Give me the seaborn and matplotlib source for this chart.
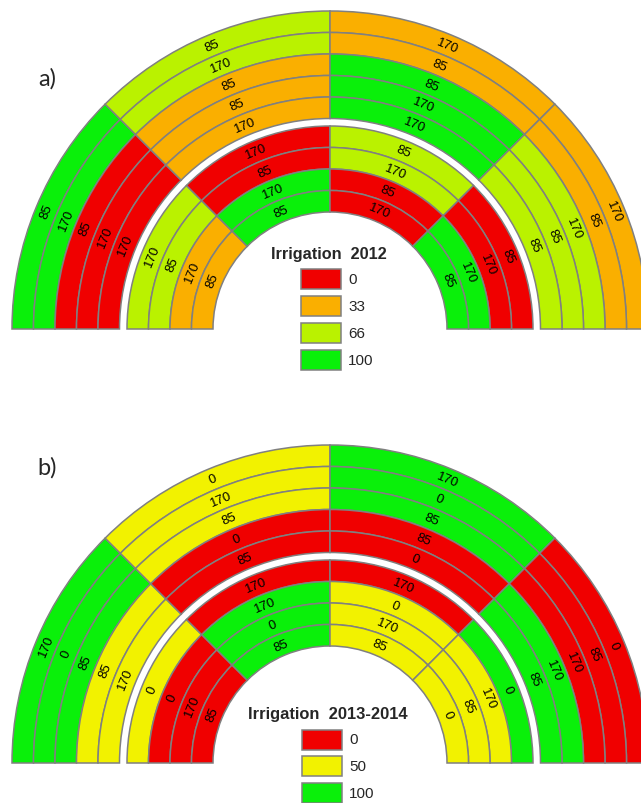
import numpy as np
import matplotlib
matplotlib.use("Agg")
import matplotlib.pyplot as plt
from matplotlib.patches import Wedge, Rectangle
import seaborn as sns

sns.set_theme(style="white")
plt.rcParams['font.family'] = ['Liberation Sans', 'DejaVu Sans']

# ---------------- data ----------------
SECTOR_EDGES = [180, 135, 90, 45, 0]          # sector boundaries (degrees)

# Panel a (2012): per sector, sub-rings listed from outer to inner
A_OUTER_LABELS = [[85, 170, 85, 170, 170], [85, 170, 85, 85, 170],
                  [170, 85, 85, 170, 170], [170, 85, 170, 85, 85]]
A_OUTER_IRR = [[100, 100, 0, 0, 0], [66, 66, 33, 33, 33],
               [33, 33, 100, 100, 100], [33, 33, 66, 66, 66]]
A_INNER_LABELS = [[170, 85, 170, 85], [170, 85, 170, 85],
                  [85, 170, 85, 170], [85, 170, 170, 85]]
A_INNER_IRR = [[66, 66, 33, 33], [0, 0, 100, 100],
               [66, 66, 0, 0], [0, 0, 100, 100]]
A_LEVELS = [0, 33, 66, 100]
A_TITLE = "Irrigation  2012"

# Panel b (2013-2014)
B_OUTER_LABELS = [[170, 0, 85, 85, 170], [0, 170, 85, 0, 85],
                  [170, 0, 85, 85, 0], [0, 85, 170, 170, 85]]
B_OUTER_IRR = [[100, 100, 100, 50, 50], [50, 50, 50, 0, 0],
               [100, 100, 100, 0, 0], [0, 0, 0, 100, 100]]
B_INNER_LABELS = [[0, 0, 170, 85], [170, 170, 0, 85],
                  [170, 0, 170, 85], [0, 170, 85, 0]]
B_INNER_IRR = [[50, 0, 0, 0], [0, 100, 100, 100],
               [0, 50, 50, 50], [100, 50, 50, 50]]
B_LEVELS = [0, 50, 100]
B_TITLE = "Irrigation  2013-2014"

PANEL_TAGS = ["a)", "b)"]

# ---------------- style ----------------
A_COLORS = dict(zip(A_LEVELS, sns.color_palette(["#F00000", "#FAAF00", "#BAF200", "#0AF00A"])))
B_COLORS = dict(zip(B_LEVELS, sns.color_palette(["#F00000", "#F2F200", "#0AF00A"])))
EDGE = "#808080"
W = 21.5                 # width of one sub-ring (px)
R_INNER0 = 117.0         # inner radius of inner ring
R_OUTER0 = 210.5         # inner radius of outer ring

W_PX, H_PX = 641, 804
fig = plt.figure(figsize=(W_PX / 100, H_PX / 100), dpi=100)
ax = fig.add_axes([0, 0, 1, 1])
ax.set_xlim(0, W_PX)
ax.set_ylim(0, H_PX)
ax.set_aspect("equal")
ax.axis("off")


def py(y):  # pixel row -> data y
    return H_PX - y


def draw_ring(center, r_in, labels, irr, colors):
    n_sub = len(labels[0])
    r_out = r_in + n_sub * W
    for s in range(len(SECTOR_EDGES) - 1):
        t2, t1 = SECTOR_EDGES[s], SECTOR_EDGES[s + 1]
        mid = 0.5 * (t1 + t2)
        for j in range(n_sub):
            ro = r_out - j * W
            ax.add_patch(Wedge(center, ro, t1, t2, width=W,
                               facecolor=colors[irr[s][j]], edgecolor=EDGE,
                               linewidth=1.1))
            rm = ro - W / 2
            x = center[0] + rm * np.cos(np.radians(mid))
            y = center[1] + rm * np.sin(np.radians(mid))
            ax.text(x, y, str(labels[s][j]), rotation=mid - 90,
                    rotation_mode="anchor", ha="center", va="center",
                    fontsize=9.5, color="black")


def draw_legend(cx, title_y, box_x, box_top, step, levels, colors, title, tsize):
    ax.text(cx, py(title_y), title, ha="center", va="center",
            fontsize=tsize, fontweight="bold")
    for i, lv in enumerate(levels):
        top = box_top + i * step
        ax.add_patch(Rectangle((box_x, py(top + 20)), 40, 20,
                               facecolor=colors[lv], edgecolor=EDGE, linewidth=1.1))
        ax.text(box_x + 47, py(top + 10), str(lv), ha="left", va="center",
                fontsize=11)


# Panel a
ca = (330, py(330))
draw_ring(ca, R_OUTER0, A_OUTER_LABELS, A_OUTER_IRR, A_COLORS)
draw_ring(ca, R_INNER0, A_INNER_LABELS, A_INNER_IRR, A_COLORS)
draw_legend(329, 255, 301, 269.5, 27.3, A_LEVELS, A_COLORS, A_TITLE, 11.7)

# Panel b
cb = (330, py(764))
draw_ring(cb, R_OUTER0, B_OUTER_LABELS, B_OUTER_IRR, B_COLORS)
draw_ring(cb, R_INNER0, B_INNER_LABELS, B_INNER_IRR, B_COLORS)
draw_legend(328, 715, 302, 730.5, 26.8, B_LEVELS, B_COLORS, B_TITLE, 11.9)

for tag, yy in zip(PANEL_TAGS, [79, 468]):
    ax.text(47, py(yy), tag, ha="center", va="center", fontsize=17,
            family=["Lato", "DejaVu Sans"])

fig.savefig("out.png", dpi=100)
